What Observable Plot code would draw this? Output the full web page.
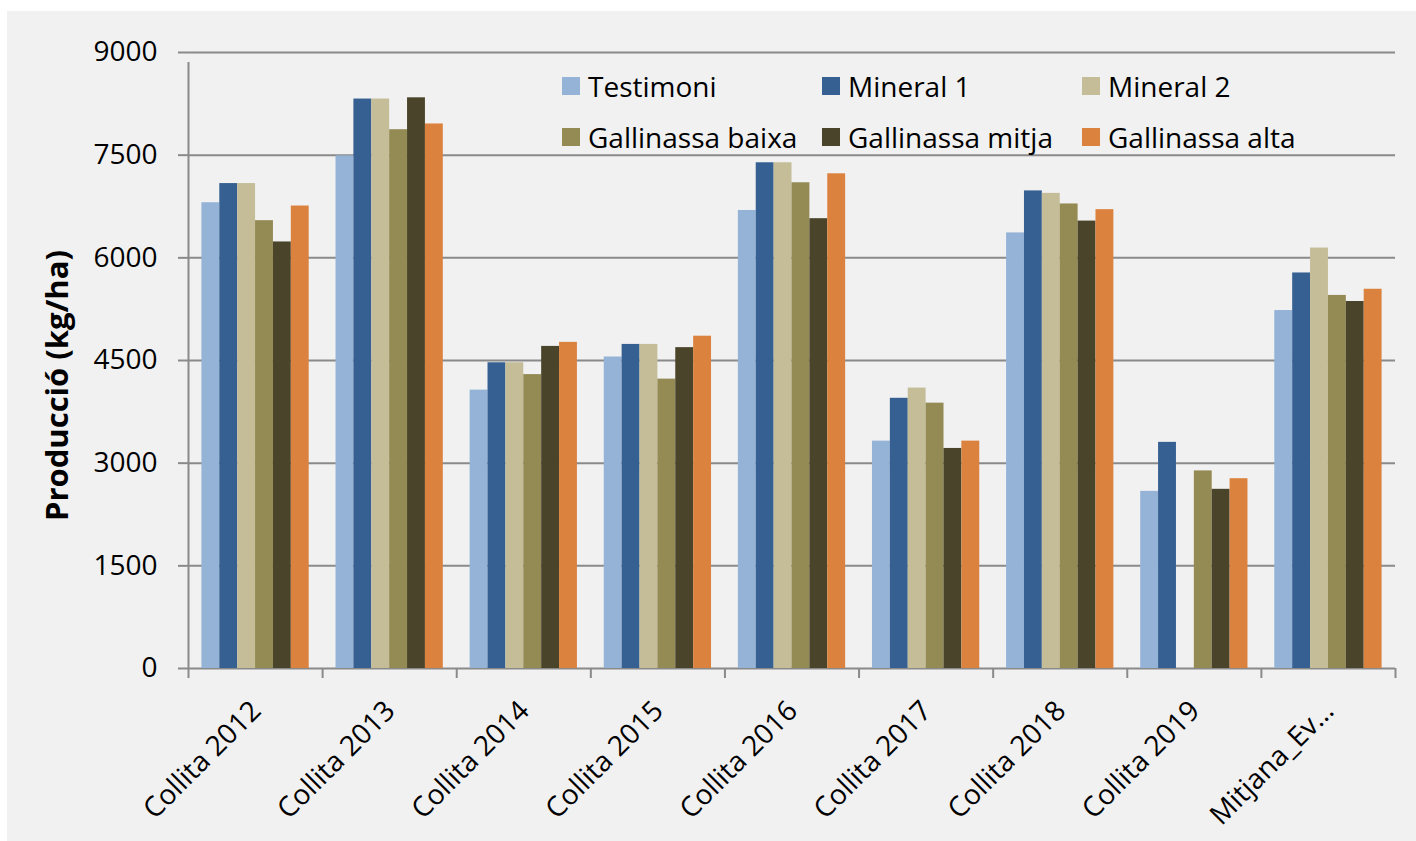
<!DOCTYPE html>
<html>
<head>
<meta charset="utf-8">
<script src="https://cdn.jsdelivr.net/npm/d3@7"></script>
<script src="https://cdn.jsdelivr.net/npm/@observablehq/plot@0.6"></script>
<style>
  html, body { margin: 0; padding: 0; background: #ffffff; }
  #wrap { position: absolute; left: 7px; top: 11px; width: 1409px; height: 830px; background: #f1f1f1; overflow: hidden; }
  #wrap svg { position: absolute; left: 0; top: 0; }
  .legend { position: absolute; left: 0; top: 0; font-family: "Open Sans", sans-serif; font-size: 28px; color: #000; }
  .item { position: absolute; display: flex; align-items: center; white-space: nowrap; height: 36px; }
  .sw { width: 18px; height: 18px; margin-right: 8px; flex: none; }
</style>
</head>
<body>
<div id="wrap"></div>
<script>
const categories = ["Collita 2012", "Collita 2013", "Collita 2014", "Collita 2015", "Collita 2016", "Collita 2017", "Collita 2018", "Collita 2019", "Mitjana_Ev…"];
const series = ["Testimoni", "Mineral 1", "Mineral 2", "Gallinassa baixa", "Gallinassa mitja", "Gallinassa alta"];
const testimoni       = [6805, 7490, 4067, 4551, 6692, 3322, 6364, 2588, 5230];
const mineral1        = [7085, 8320, 4467, 4735, 7389, 3948, 6978, 3304, 5779];
const mineral2        = [7085, 8320, 4467, 4735, 7389, 4097, 6942, null, 6143];
const gallinassaBaixa = [6543, 7872, 4294, 4228, 7097, 3877, 6787, 2887, 5451];
const gallinassaMitja = [6232, 8338, 4706, 4688, 6572, 3215, 6537, 2618, 5362];
const gallinassaAlta  = [6757, 7956, 4765, 4855, 7228, 3322, 6704, 2773, 5541];
const yTicks = [0, 1500, 3000, 4500, 6000, 7500, 9000];
const colors = ["#95b3d7", "#366092", "#c4bd97", "#948a54", "#4a452a", "#dc823f"];

const seriesValues = [testimoni, mineral1, mineral2, gallinassaBaixa, gallinassaMitja, gallinassaAlta];
const nS = series.length;
const groupPad = 0.1;               // fraction of a category slot left empty on each side
const barW = (1 - 2 * groupPad) / nS;
const data = [];
categories.forEach((c, i) => {
  seriesValues.forEach((vals, s) => {
    if (vals[i] == null) return;
    data.push({category: c, series: series[s], value: vals[i], x1: i + groupPad + s * barW, x2: i + groupPad + (s + 1) * barW});
  });
});
const labelData = categories.map((c, i) => ({label: c, mid: i + 0.5, base: 0}));
const gridColor = "#8a8a8a";

const chart = Plot.plot({
  width: 1409,
  height: 830,
  marginLeft: 181,
  marginRight: 21,
  marginTop: 41,
  marginBottom: 173,
  style: {background: "transparent", fontFamily: "'Open Sans', sans-serif", fontSize: "28px", color: "#000", overflow: "visible"},
  x: {type: "linear", domain: [0, categories.length], axis: null},
  y: {domain: [0, 9000], axis: null},
  color: {domain: series, range: colors},
  marks: [
    Plot.gridY(yTicks, {stroke: gridColor, strokeOpacity: 1, strokeWidth: 2}),
    Plot.axisY(yTicks, {tickSize: 10, tickPadding: 21, stroke: gridColor, strokeWidth: 2, fill: "#000", fontSize: 28, label: null, tickFormat: d => String(d)}),
    Plot.ruleX([0], {y1: 0, y2: 9000, insetBottom: -10, stroke: gridColor, strokeWidth: 2}),
    Plot.ruleX(d3.range(categories.length + 1), {y1: 0, y2: 0, insetBottom: -10, stroke: gridColor, strokeWidth: 2}),
    Plot.rectY(data, {x1: "x1", x2: "x2", y: "value", fill: "series"}),
    Plot.text(labelData, {x: "mid", y: "base", text: "label", rotate: -45, textAnchor: "end", lineAnchor: "bottom", dx: 7, dy: 44, fontSize: 28, fill: "#000"}),
    Plot.text(["Producció (kg/ha)"], {frameAnchor: "left", textAnchor: "middle", lineAnchor: "middle", rotate: -90, dx: -130, dy: 25, fontSize: 31, fontWeight: "bold", fill: "#000"})
  ]
});

const wrap = document.getElementById("wrap");
wrap.appendChild(chart);

const legend = document.createElement("div");
legend.className = "legend";
const colLefts = [555, 815, 1075];
const rowCenters = [75, 126];
series.forEach((s, k) => {
  const item = document.createElement("div");
  item.className = "item";
  item.style.left = colLefts[k % 3] + "px";
  item.style.top = (rowCenters[Math.floor(k / 3)] - 18) + "px";
  const sw = document.createElement("span");
  sw.className = "sw";
  sw.style.background = colors[k];
  const tx = document.createElement("span");
  tx.textContent = s;
  item.appendChild(sw);
  item.appendChild(tx);
  legend.appendChild(item);
});
wrap.appendChild(legend);
</script>
</body>
</html>
